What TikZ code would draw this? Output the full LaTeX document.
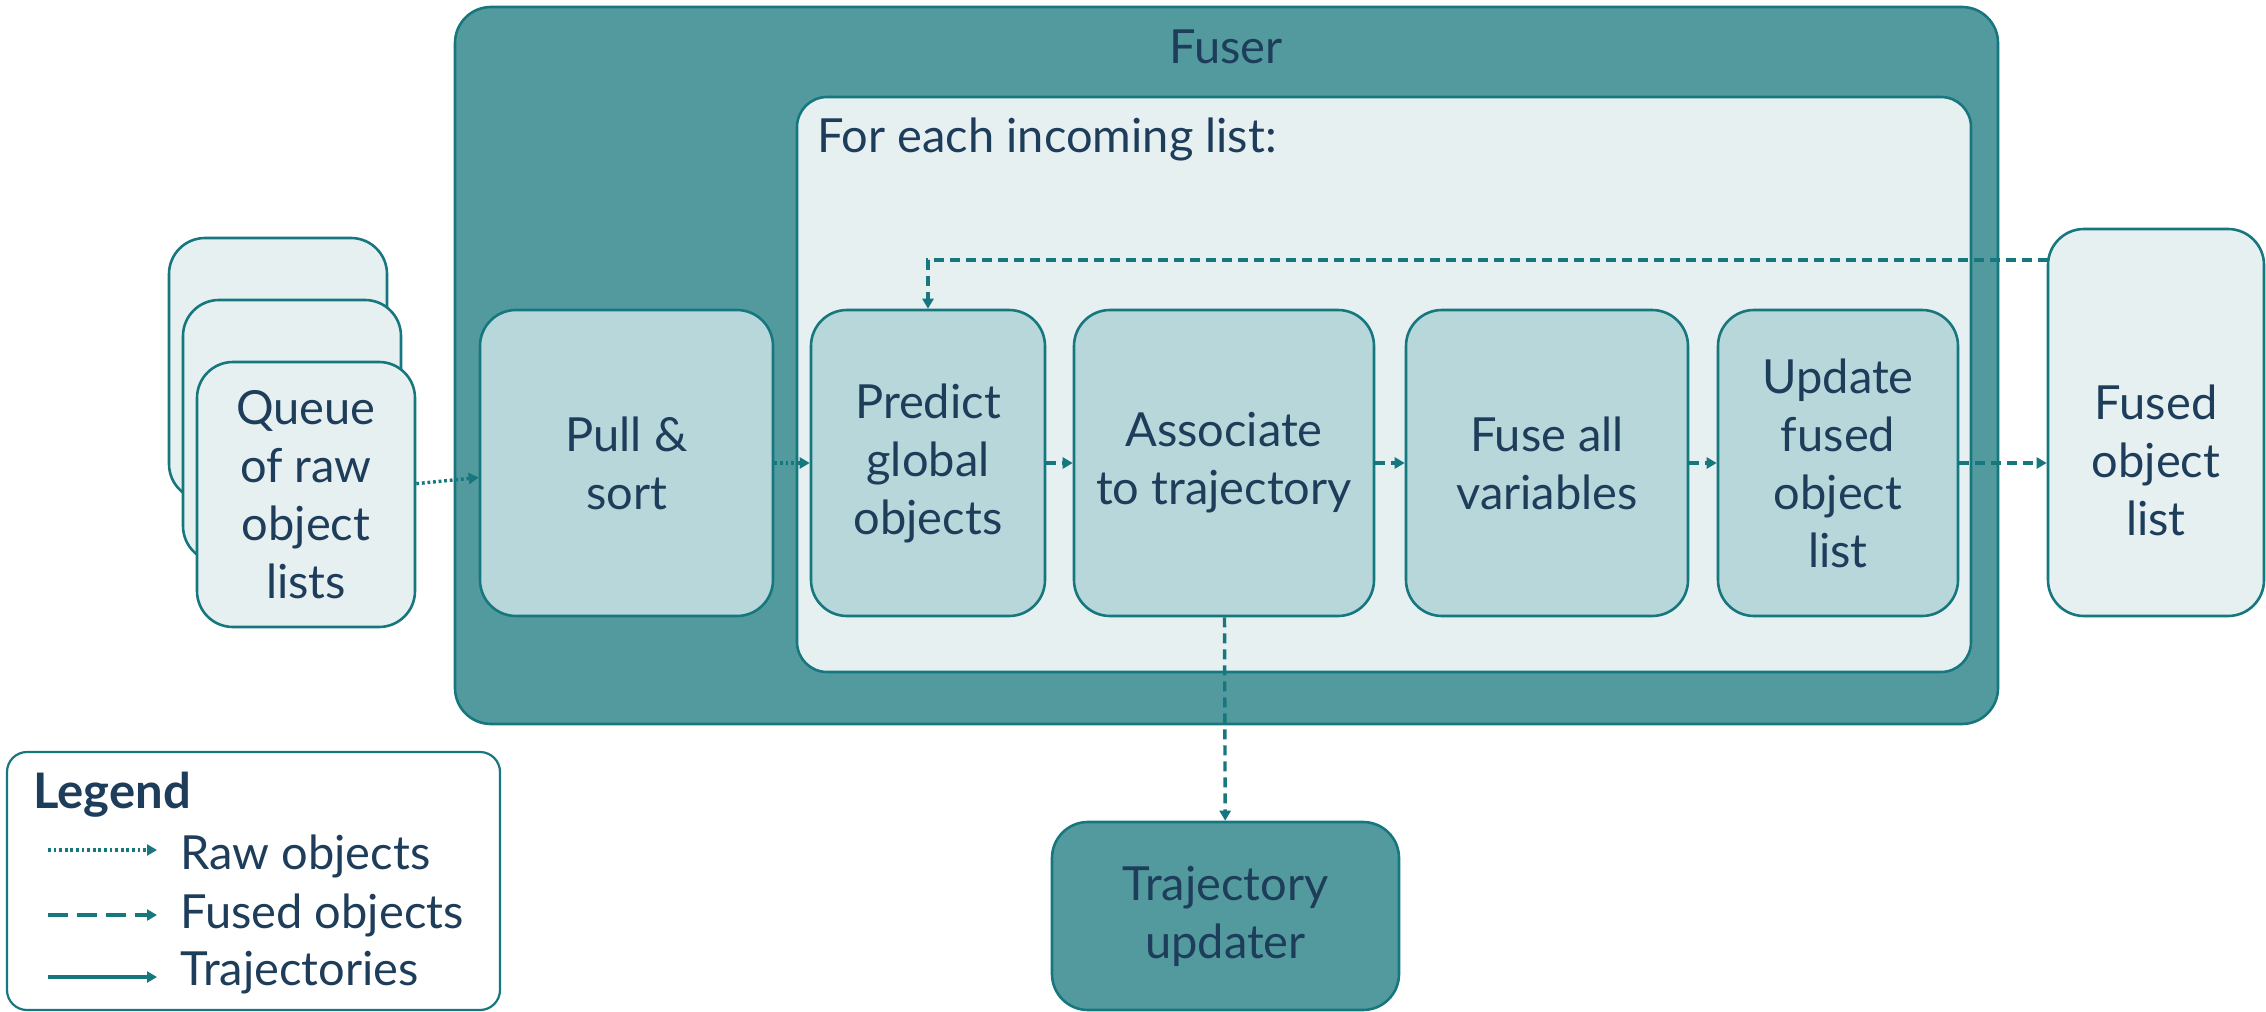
\documentclass[tikz,border=0pt]{standalone}
\usepackage{fontspec}
\setmainfont{Lato}
\usetikzlibrary{arrows.meta}
\definecolor{linec}{RGB}{23,119,126}
\definecolor{fuserfill}{RGB}{83,154,159}
\definecolor{lightfill}{RGB}{230,240,241}
\definecolor{stagefill}{RGB}{183,215,218}
\definecolor{textc}{RGB}{30,61,90}
\begin{document}
\begin{tikzpicture}[x=0.5pt,y=-0.5pt,
  every node/.style={text=textc, font=\fontsize{23.5}{29}\selectfont},
  boxbase/.style={draw=linec, line width=1.3pt, rounded corners=18pt, inner sep=0pt, align=center},
  stagebox/.style={boxbase, fill=stagefill, minimum height=153pt},
  lightbox/.style={boxbase, fill=lightfill},
  arr/.style={draw=linec, line width=1.7pt, -{Triangle[length=5pt,width=5.5pt]}},
  fusedarr/.style={arr, dash pattern=on 5pt off 3pt},
  rawarr/.style={arr, dash pattern=on 1.4pt off 1.4pt},
  trajarr/.style={arr},
]
\useasboundingbox (0,0) rectangle (2266,1012);
% Fuser container
\node[boxbase, fill=fuserfill, minimum width=771.5pt, minimum height=358.5pt] (fuser) at (1226.5,365.5) {};
\node (fusertitle) at (1226,47) {Fuser};
\node[boxbase, fill=lightfill, rounded corners=15pt, minimum width=587pt, minimum height=287.5pt] (inner) at (1384,384.5) {};
\node[anchor=west, inner sep=0pt] (innerlabel) at (817,139) {For each incoming list:};
% Queue cards
\node[lightbox, minimum width=109pt, minimum height=131pt] (card1) at (278,369) {};
\node[lightbox, minimum width=109pt, minimum height=131pt] (card2) at (292,431) {};
\node[lightbox, minimum width=109pt, minimum height=132.5pt] (queue) at (306,494.5) {Queue\\of raw\\object\\lists};
% stages
\node[stagebox, minimum width=146.5pt] (pull) at (626.5,463) {Pull \&\\sort};
\node[stagebox, minimum width=117pt] (pred) at (928,463) {Predict\\global\\objects};
\node[stagebox, minimum width=150pt] (assoc) at (1224,463) {Associate\\to trajectory};
\node[stagebox, minimum width=141pt] (fuse) at (1547,463) {Fuse all\\variables};
\node[stagebox, minimum width=120pt] (upd) at (1838,463) {Update\\fused\\object\\list};
\node[lightbox, minimum width=108pt, minimum height=193.5pt] (fused) at (2156,422.5) {};
\node[align=center, inner sep=0pt] (fusedtext) at (2156,460) {Fused\\object\\list};
\node[boxbase, fill=fuserfill, minimum width=173.5pt, minimum height=94pt] (traj) at (1225.5,916) {Trajectory\\updater};
% connectors
\draw[rawarr] (queue) -- (pull);
\draw[rawarr] (pull) -- (pred);
\draw[fusedarr] (pred) -- (assoc);
\draw[fusedarr] (assoc) -- (fuse);
\draw[fusedarr] (fuse) -- (upd);
\draw[fusedarr] (upd.east) -- (upd.east -| fused.west);
\draw[fusedarr] (assoc) -- (traj);
\coordinate (fbstart) at (2048,260);
\draw[fusedarr] (fbstart) -| (pred.north);
% legend
\node[draw=linec, line width=1.1pt, rounded corners=10pt, fill=white, minimum width=246.5pt, minimum height=129pt] (legend) at (253.5,881) {};
\node[anchor=base west, inner sep=0pt, font=\fontsize{24.5}{29}\selectfont\bfseries] (legtitle) at (33,808) {Legend};
\coordinate (l1a) at (48,850); \coordinate (l1b) at (157,850);
\coordinate (l2a) at (48,915); \coordinate (l2b) at (157,915);
\coordinate (l3a) at (48,977); \coordinate (l3b) at (157,977);
\draw[rawarr] (l1a) -- (l1b);
\draw[arr, dash pattern=on 10pt off 4.5pt] (l2a) -- (l2b);
\draw[trajarr] (l3a) -- (l3b);
\node[anchor=base west, inner sep=0pt] (leg1) at (180,869) {Raw objects};
\node[anchor=base west, inner sep=0pt] (leg2) at (180,928) {Fused objects};
\node[anchor=base west, inner sep=0pt] (leg3) at (180,985) {Trajectories};
\end{tikzpicture}
\end{document}
